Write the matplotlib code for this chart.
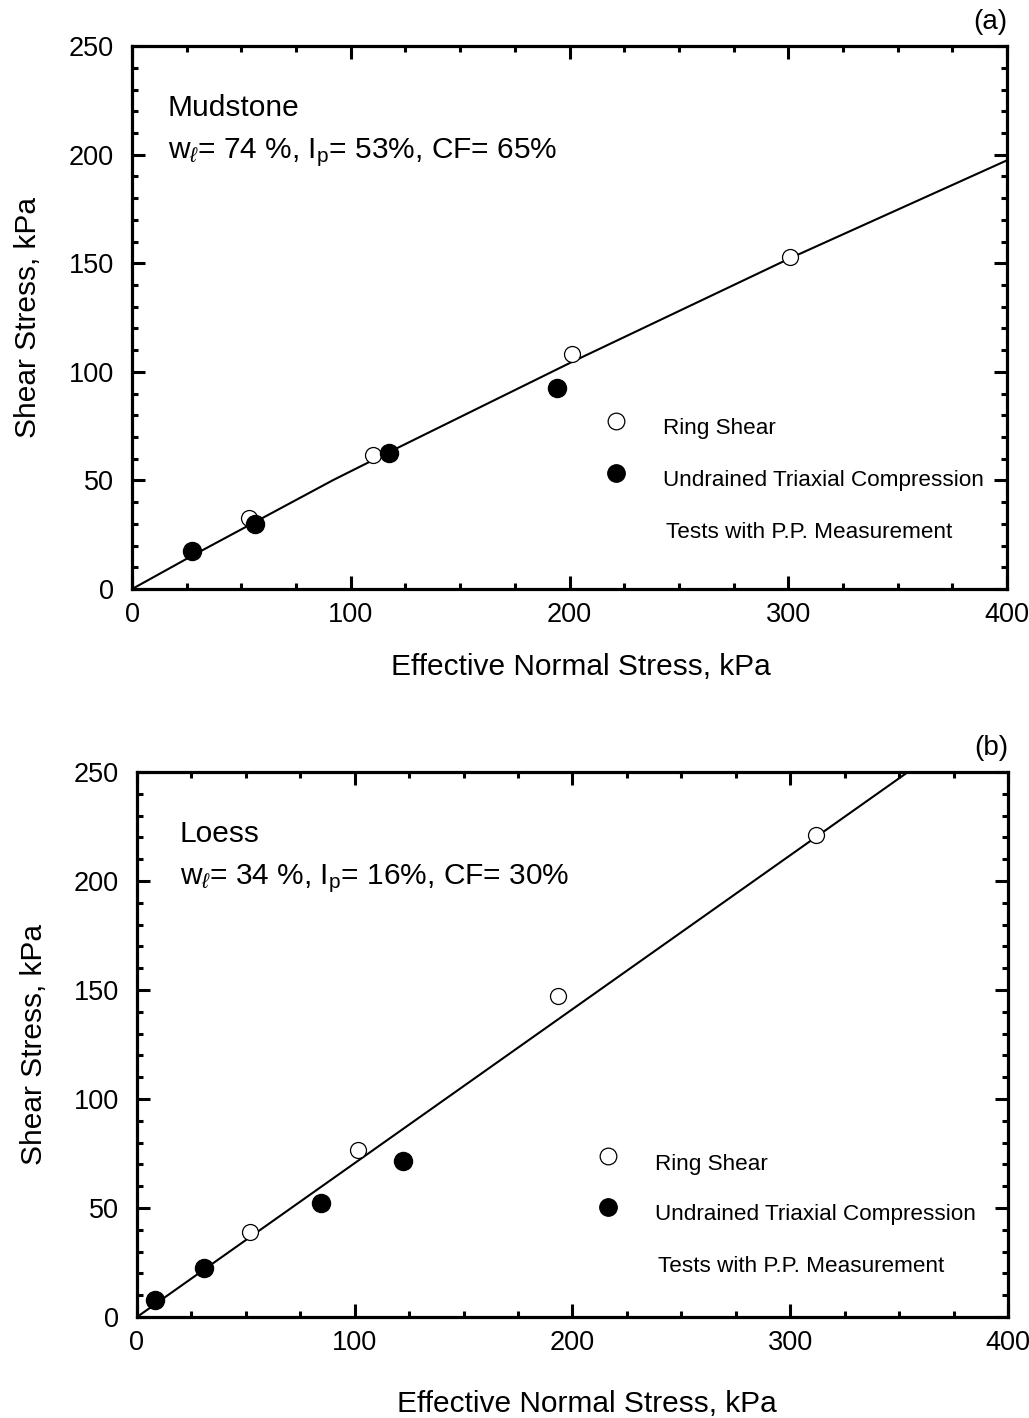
import numpy as np
import matplotlib
matplotlib.use("Agg")
import matplotlib.pyplot as plt
from matplotlib.ticker import MultipleLocator

plt.rcParams['font.family'] = ['Liberation Sans', 'DejaVu Sans']
plt.rcParams['mathtext.fontset'] = 'custom'
plt.rcParams['mathtext.rm'] = 'Liberation Sans'
plt.rcParams['mathtext.it'] = 'Liberation Sans:italic'

# (a) Mudstone
a_ring_x = [53.5, 110.2, 201.0, 300.8]
a_ring_y = [32.7, 61.8, 108.4, 153.1]
a_tri_x = [27.6, 56.2, 117.5, 194.3]
a_tri_y = [17.6, 30.0, 62.5, 92.7]
a_fit_x = [0, 28, 92, 118, 201, 301, 400]
a_fit_y = [0, 15.6, 50.2, 63.3, 104.5, 152.4, 197.4]

# (b) Loess
b_ring_x = [51.9, 101.5, 193.3, 311.8]
b_ring_y = [39.0, 76.6, 147.2, 221.0]
b_tri_x = [8.3, 30.8, 84.5, 122.2]
b_tri_y = [7.8, 22.5, 52.3, 71.6]
b_fit_x = [0, 354]
b_fit_y = [0, 250]

fig = plt.figure(figsize=(10.29, 14.18), dpi=100)

def panel(rect, ring_x, ring_y, tri_x, tri_y, fit_x, fit_y, name, props,
          tag, txt_x, leg, lab_pos):
    ax = fig.add_axes(rect)
    ax.plot(fit_x, fit_y, color='black', lw=1.5, zorder=2)
    ax.plot(ring_x, ring_y, 'o', ms=11.5, mfc='white', mec='black', mew=0.9, zorder=3)
    ax.plot(tri_x, tri_y, 'o', ms=13, mfc='black', mec='black', zorder=4)
    ax.set_xlim(0, 400)
    ax.set_ylim(0, 250)
    ax.xaxis.set_major_locator(MultipleLocator(100))
    ax.xaxis.set_minor_locator(MultipleLocator(25))
    ax.yaxis.set_major_locator(MultipleLocator(50))
    ax.yaxis.set_minor_locator(MultipleLocator(10))
    ax.tick_params(which='both', direction='in', top=True, right=True, width=2.2)
    ax.tick_params(which='major', length=9.5, labelsize=19.5)
    ax.tick_params(which='minor', length=4.5)
    ax.tick_params(axis='x', which='major', pad=9)
    ax.tick_params(axis='y', which='major', pad=13)
    for s in ax.spines.values():
        s.set_linewidth(2.3)
    ax.set_xlabel('Effective Normal Stress, kPa', fontsize=21.5)
    ax.set_ylabel('Shear Stress, kPa', fontsize=21.5)
    ax.xaxis.set_label_coords(lab_pos[0], lab_pos[1])
    ax.yaxis.set_label_coords(lab_pos[2], 0.5)
    ax.text(txt_x, 0.871, name, transform=ax.transAxes, fontsize=21.5, va='baseline')
    ax.text(txt_x, 0.794, props, transform=ax.transAxes, fontsize=21.5, va='baseline')
    ax.text(1.0, 1.02, tag, transform=ax.transAxes, fontsize=20, ha='right', va='bottom')
    mx, tx, y1, y2, y3 = leg
    ax.plot([mx], [y1 + 3.5], 'o', ms=12, mfc='white', mec='black', mew=0.9, clip_on=False)
    ax.plot([mx], [y2 + 3.3], 'o', ms=12.5, mfc='black', mec='black', clip_on=False)
    ax.text(tx, y1, 'Ring Shear', fontsize=16.2, va='center')
    ax.text(tx, y2, 'Undrained Triaxial Compression', fontsize=16.2, va='center')
    ax.text(tx + 1.5, y3, 'Tests with P.P. Measurement', fontsize=16.2, va='center')
    return ax

panel([0.1283, 0.5846, 0.8503, 0.3829], a_ring_x, a_ring_y, a_tri_x, a_tri_y,
      a_fit_x, a_fit_y, 'Mudstone',
      r'w$_{\ell}$= 74 %, I$_{\mathrm{p}}$= 53%, CF= 65%', '(a)', 0.041,
      (221.3, 242.7, 73.7, 50.2, 26.2), (0.513, -0.118, -0.103))

panel([0.1331, 0.0712, 0.8465, 0.3843], b_ring_x, b_ring_y, b_tri_x, b_tri_y,
      b_fit_x, b_fit_y, 'Loess',
      r'w$_{\ell}$= 34 %, I$_{\mathrm{p}}$= 16%, CF= 30%', '(b)', 0.049,
      (216.3, 237.9, 70.2, 47.2, 23.4), (0.517, -0.134, -0.102))

fig.savefig('out.png', dpi=100)
